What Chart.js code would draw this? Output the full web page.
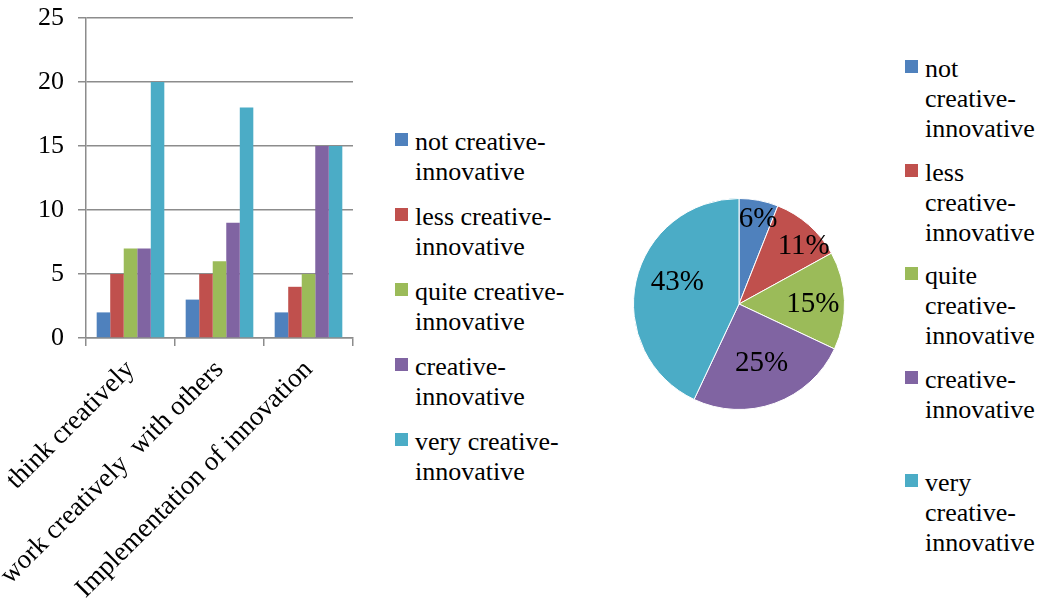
<!DOCTYPE html>
<html>
<head>
<meta charset="utf-8">
<script src="https://cdn.jsdelivr.net/npm/chart.js@4.4.1/dist/chart.umd.min.js"></script>
<style>
  body { margin: 0; background: #fff; font-family: 'Liberation Serif', 'Times New Roman', serif; }
  #wrap { position: relative; width: 1041px; height: 599px; overflow: hidden; }
  canvas { position: absolute; }
  .legend { position: absolute; font-size: 26px; line-height: 30px; color: #000; }
  .legend .item { position: relative; padding-left: 20px; }
  .legend .box { position: absolute; left: 0; top: 6px; width: 13px; height: 13px; }
  #barLegend { left: 395px; top: 127px; width: 180px; }
  #barLegend .item { margin-bottom: 15px; width: 160px; }
  #pieLegend { left: 905px; top: 54px; width: 136px; }
  #pieLegend .item { height: 103.5px; width: 116px; }
</style>
</head>
<body>
<div id="wrap">
  <canvas id="barChart" width="370" height="599" style="left:0;top:0"></canvas>
  <div id="barLegend" class="legend"></div>
  <canvas id="pieChart" width="252" height="252" style="left:613px;top:178px"></canvas>
  <div id="pieLegend" class="legend"></div>
</div>
<script>
const categories = ['think creatively', 'work creatively  with others', 'Implementation of innovation'];
const seriesNames = ['not creative-innovative', 'less creative-innovative', 'quite creative-innovative', 'creative-innovative', 'very creative-innovative'];
const notCreative = [2, 3, 2];
const lessCreative = [5, 5, 4];
const quiteCreative = [7, 6, 5];
const creative = [7, 9, 15];
const veryCreative = [20, 18, 15];
const piePercents = [6, 11, 15, 25, 43];
const yTicks = [0, 5, 10, 15, 20, 25];

const colors = ['#4F81BD', '#C0504D', '#9BBB59', '#8064A2', '#4BACC6'];
const serif = "'Liberation Serif', 'Times New Roman', serif";
const gridColor = '#8c8c8c';

const seriesValues = [notCreative, lessCreative, quiteCreative, creative, veryCreative];

new Chart(document.getElementById('barChart'), {
  type: 'bar',
  data: {
    labels: categories,
    datasets: seriesNames.map((name, i) => ({
      label: name,
      data: seriesValues[i],
      backgroundColor: colors[i],
      borderWidth: 0,
      categoryPercentage: 0.76,
      barPercentage: 1
    }))
  },
  options: {
    responsive: false,
    animation: false,
    layout: { padding: { top: 18, right: 17, left: 0, bottom: 0 } },
    plugins: { legend: { display: false }, tooltip: { enabled: false } },
    scales: {
      x: {
        grid: { offset: true, drawOnChartArea: false, drawTicks: true, tickLength: 8, color: gridColor, lineWidth: 1.5 },
        border: { color: gridColor, width: 1.5 },
        ticks: { color: '#000', font: { family: serif, size: 27 }, minRotation: 45, maxRotation: 45, padding: 8, autoSkip: false },
        afterFit(axis) {
          axis.height = 261;
          axis.paddingLeft = 0;
          axis.paddingRight = 0;
        }
      },
      y: {
        min: 0,
        max: yTicks[yTicks.length - 1],
        afterBuildTicks(axis) { axis.ticks = yTicks.map(v => ({ value: v })); },
        grid: { color: gridColor, lineWidth: 1.5, tickLength: 8 },
        border: { color: gridColor, width: 1.5 },
        ticks: { color: '#000', font: { family: serif, size: 26 }, padding: 14 },
        afterFit(axis) {
          axis.width = 86;
          axis.paddingTop = 0;
          axis.paddingBottom = 0;
        }
      }
    }
  }
});

// percentage labels inside the slices
const labelRadius = [0.82, 0.82, 0.70, 0.60, 0.62];
const labelNudge = [2, 7, 2, -1, 7];
const pieLabels = {
  id: 'pieLabels',
  afterDatasetsDraw(chart) {
    const ctx = chart.ctx;
    ctx.save();
    ctx.font = '29px ' + serif;
    ctx.fillStyle = '#000';
    ctx.textAlign = 'center';
    ctx.textBaseline = 'middle';
    chart.getDatasetMeta(0).data.forEach((arc, i) => {
      const mid = (arc.startAngle + arc.endAngle) / 2 + labelNudge[i] * Math.PI / 180;
      const r = arc.outerRadius * labelRadius[i];
      ctx.fillText(piePercents[i] + '%', arc.x + Math.cos(mid) * r, arc.y + Math.sin(mid) * r);
    });
    ctx.restore();
  }
};

new Chart(document.getElementById('pieChart'), {
  type: 'pie',
  data: {
    labels: seriesNames,
    datasets: [{ data: piePercents, backgroundColor: colors, borderColor: '#fff', borderWidth: 1 }]
  },
  options: {
    responsive: false,
    animation: false,
    layout: { padding: 20 },
    plugins: { legend: { display: false }, tooltip: { enabled: false } }
  },
  plugins: [pieLabels]
});

function buildLegend(el) {
  seriesNames.forEach((name, i) => {
    const item = document.createElement('div');
    item.className = 'item';
    const box = document.createElement('span');
    box.className = 'box';
    box.style.background = colors[i];
    item.appendChild(box);
    item.appendChild(document.createTextNode(name));
    el.appendChild(item);
  });
}
buildLegend(document.getElementById('barLegend'));
buildLegend(document.getElementById('pieLegend'));
</script>
</body>
</html>
